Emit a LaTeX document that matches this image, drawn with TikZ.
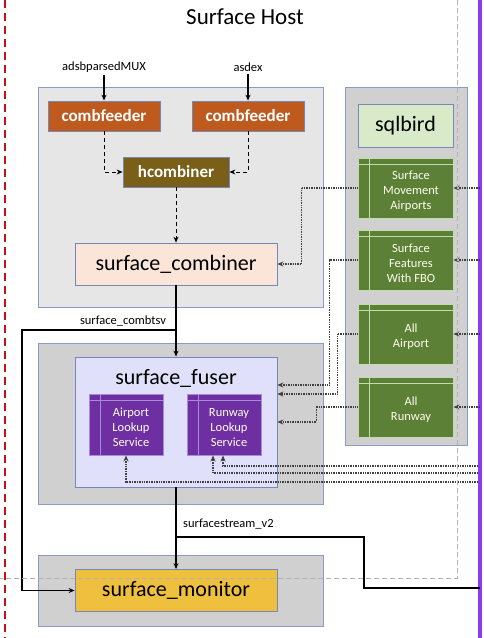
\documentclass[tikz,border=0pt]{standalone}
\usepackage{fontspec}
\setmainfont{Carlito}
\usetikzlibrary{arrows.meta,positioning,calc}

\definecolor{GroupEdge}{HTML}{8A9CC6}
\definecolor{PaleGray}{HTML}{E6E6E6}
\definecolor{MidGray}{HTML}{D0D0D0}
\definecolor{NodeEdge}{HTML}{7588B8}
\definecolor{FeederOrange}{HTML}{BE5A1E}
\definecolor{CombinerOlive}{HTML}{7A5F18}
\definecolor{CombinerPeach}{HTML}{FAE5D8}
\definecolor{SqlGreen}{HTML}{D9EAC9}
\definecolor{TableGreen}{HTML}{5B8036}
\definecolor{TableEdge}{HTML}{C2DCAE}
\definecolor{FuserLilac}{HTML}{E0E0FA}
\definecolor{LookupPurple}{HTML}{6E2FA2}
\definecolor{LookupEdge}{HTML}{A68BDA}
\definecolor{MonitorGold}{HTML}{EFBF3E}
\definecolor{HostRed}{HTML}{C0141C}
\definecolor{ExtViolet}{HTML}{8A3CF2}
\definecolor{DbLine}{HTML}{404040}

\tikzset{
    % group boxes
    lightgroup/.style={
        draw=GroupEdge,
        fill=PaleGray,
        line width=0.9pt
    },
    darkgroup/.style={
        lightgroup,
        fill=MidGray
    },
    % process boxes
    procnode/.style={
        draw=NodeEdge,
        line width=0.8pt,
        align=center,
        font=\fontsize{22}{24}\selectfont
    },
    feedernode/.style={
        procnode,
        fill=FeederOrange,
        text=white,
        minimum width=112pt,
        minimum height=30pt,
        font=\fontsize{17}{19}\selectfont\bfseries
    },
    hcombnode/.style={
        feedernode,
        fill=CombinerOlive,
        minimum width=106pt
    },
    wideproc/.style={
        procnode,
        minimum width=202pt,
        minimum height=42pt
    },
    % table boxes
    tablebox/.style={
        draw=#1,
        line width=0.9pt,
        path picture={
            \draw[#1, line width=0.9pt]
                ([xshift=11pt]path picture bounding box.north west) --
                ([xshift=11pt]path picture bounding box.south west)
                ([yshift=-6pt]path picture bounding box.north west) --
                ([yshift=-6pt]path picture bounding box.north east);
        }
    },
    greentable/.style={
        tablebox=TableEdge,
        fill=TableGreen,
        minimum width=95pt,
        minimum height=60pt
    },
    lookuptable/.style={
        tablebox=LookupEdge,
        fill=LookupPurple,
        minimum width=74pt,
        minimum height=61pt
    },
    tabletext/.style={
        text=white!94!yellow,
        align=center,
        font=\fontsize{12.5}{15}\selectfont
    },
    smalllbl/.style={
        font=\fontsize{12.5}{14}\selectfont,
        inner sep=2pt
    },
    % connectors
    feedarrow/.style={
        -{Stealth[length=6pt, width=5pt]},
        line width=1.6pt
    },
    dasharrow/.style={
        -{Stealth[length=6pt, width=5pt]},
        line width=0.9pt,
        dash pattern=on 4pt off 3pt
    },
    streamline/.style={
        line width=1.8pt,
        line join=miter
    },
    dbarrow/.style={
        -{Stealth[length=6pt, width=5pt]},
        draw=DbLine,
        line width=1.1pt,
        dash pattern=on 1pt off 0.7pt
    }
}

\begin{document}
\begin{tikzpicture}[x=1pt, y=-1pt]
\useasboundingbox (0,0) rectangle (484,638);

% host borders
\draw[HostRed, line width=2pt, dash pattern=on 8pt off 5pt] (5,0) -- (5,638);
\draw[ExtViolet, line width=3.5pt] (480,0) -- (480,638);

\node[font=\fontsize{23}{25}\selectfont] (title) at (245,17) {Surface Host};

% groups
\node[lightgroup, minimum width=285pt, minimum height=220pt] (combGrp) at (180.5,197) {};
\node[darkgroup, minimum width=122pt, minimum height=358pt] (sqlGrp) at (406,266) {};
\node[darkgroup, minimum width=285pt, minimum height=161pt] (fuserGrp) at (180.5,423.5) {};
\node[darkgroup, minimum width=285pt, minimum height=71pt] (monGrp) at (180.5,590.5) {};

% combiner group
\node[smalllbl] (srcA) at (104,67) {adsbparsedMUX};
\node[smalllbl] (srcB) at (248,67) {asdex};
\node[feedernode] (feedA) at (104,116) {combfeeder};
\node[feedernode] (feedB) at (248,116) {combfeeder};
\node[hcombnode] (hcomb) at (176,172) {hcombiner};
\node[wideproc, fill=CombinerPeach] (scomb) at (176,264) {surface\_combiner};

\draw[feedarrow] (srcA) -- (feedA);
\draw[feedarrow] (srcB) -- (feedB);
\draw[dasharrow] (feedA.south) |- (hcomb.west);
\draw[dasharrow] (feedB.south) |- (hcomb.east);
\draw[dasharrow] (hcomb) -- (scomb);

% sqlbird group
\node[procnode, fill=SqlGreen, minimum width=95pt, minimum height=43pt] (sqlbird) at (405.5,125.5) {sqlbird};
\node[greentable, label={[tabletext, xshift=5.5pt, yshift=-3pt]center:{Surface\\Movement\\Airports}}] (sma) at (405.5,188) {};
\node[greentable, label={[tabletext, xshift=5.5pt, yshift=-3pt]center:{Surface\\Features\\With FBO}}] (sff) at (405.5,260) {};
\node[greentable, label={[tabletext, xshift=5.5pt, yshift=-3pt]center:{All\\Airport}}] (aap) at (405.5,334) {};
\node[greentable, label={[tabletext, xshift=5.5pt, yshift=-3pt]center:{All\\Runway}}] (arw) at (405.5,407) {};

% fuser group
\node[procnode, fill=FuserLilac, minimum width=202pt, minimum height=130pt] (fuser) at (176,422) {};
\node[procnode, draw=none] (fuserT) at (176,378) {surface\_fuser};
\node[lookuptable, label={[tabletext, xshift=5pt, yshift=-3pt]center:{Airport\\Lookup\\Service}}] (aptLook) at (126,424.5) {};
\node[lookuptable, label={[tabletext, xshift=5pt, yshift=-3pt]center:{Runway\\Lookup\\Service}}] (rwyLook) at (224,424.5) {};

% monitor group
\node[wideproc, fill=MonitorGold] (monitor) at (176,590.5) {surface\_monitor};

% streams
\coordinate (tsvSplit) at (176,330);
\coordinate (tsvBend) at (22,330);
\draw[streamline] (scomb) -- (tsvSplit);
\draw[feedarrow] (tsvSplit) -- (fuser.north);
\draw[feedarrow] (tsvSplit) -- (tsvBend) |- (monitor.west);
\node[smalllbl] (tsvLbl) at (123,321) {surface\_combtsv};

\coordinate (v2Split) at (176,537);
\coordinate (v2Bend) at (364,537);
\coordinate (v2Out) at (480,588);
\draw[feedarrow] (fuser.south) -- (monitor.north);
\draw[streamline] (v2Split) -- (v2Bend) |- (v2Out);
\node[smalllbl, anchor=west] (v2Lbl) at (181,524) {surfacestream\_v2};

% table feeds
\draw[dbarrow] (sma.west) -- ++(-56,0) |- (scomb.east);
\draw[dbarrow] (sff.west) -- ++(-28,0) |- ([yshift=37pt]fuser.east);
\draw[dbarrow] (aap.west) -- ++(-20,0) |- ([yshift=28pt]fuser.east);
\draw[dbarrow] (arw.west) -- ++(-41,0) |- (fuser.east);

\coordinate (inSma) at (480,188);
\coordinate (inSff) at (480,260);
\coordinate (inAap) at (480,334);
\coordinate (inArw) at (480,407);
\draw[dbarrow] (inSma) -- (sma.east);
\draw[dbarrow] (inSff) -- (sff.east);
\draw[dbarrow] (inAap) -- (aap.east);
\draw[dbarrow] (inArw) -- (arw.east);

\coordinate (inRwyA) at (478,466);
\coordinate (inRwyB) at (478,473);
\coordinate (inApt) at (478,482);
\draw[dbarrow] (inRwyA) -| ([xshift=-1pt]rwyLook.south);
\draw[dbarrow] (inRwyB) -| ([xshift=-11pt]rwyLook.south);
\draw[dbarrow] (inApt) -| (aptLook.south);

% host boundary
\draw[gray!60, line width=0.8pt, dash pattern=on 5pt off 3pt] (457,0) -- (457,578) -- (0,578);
\end{tikzpicture}
\end{document}
